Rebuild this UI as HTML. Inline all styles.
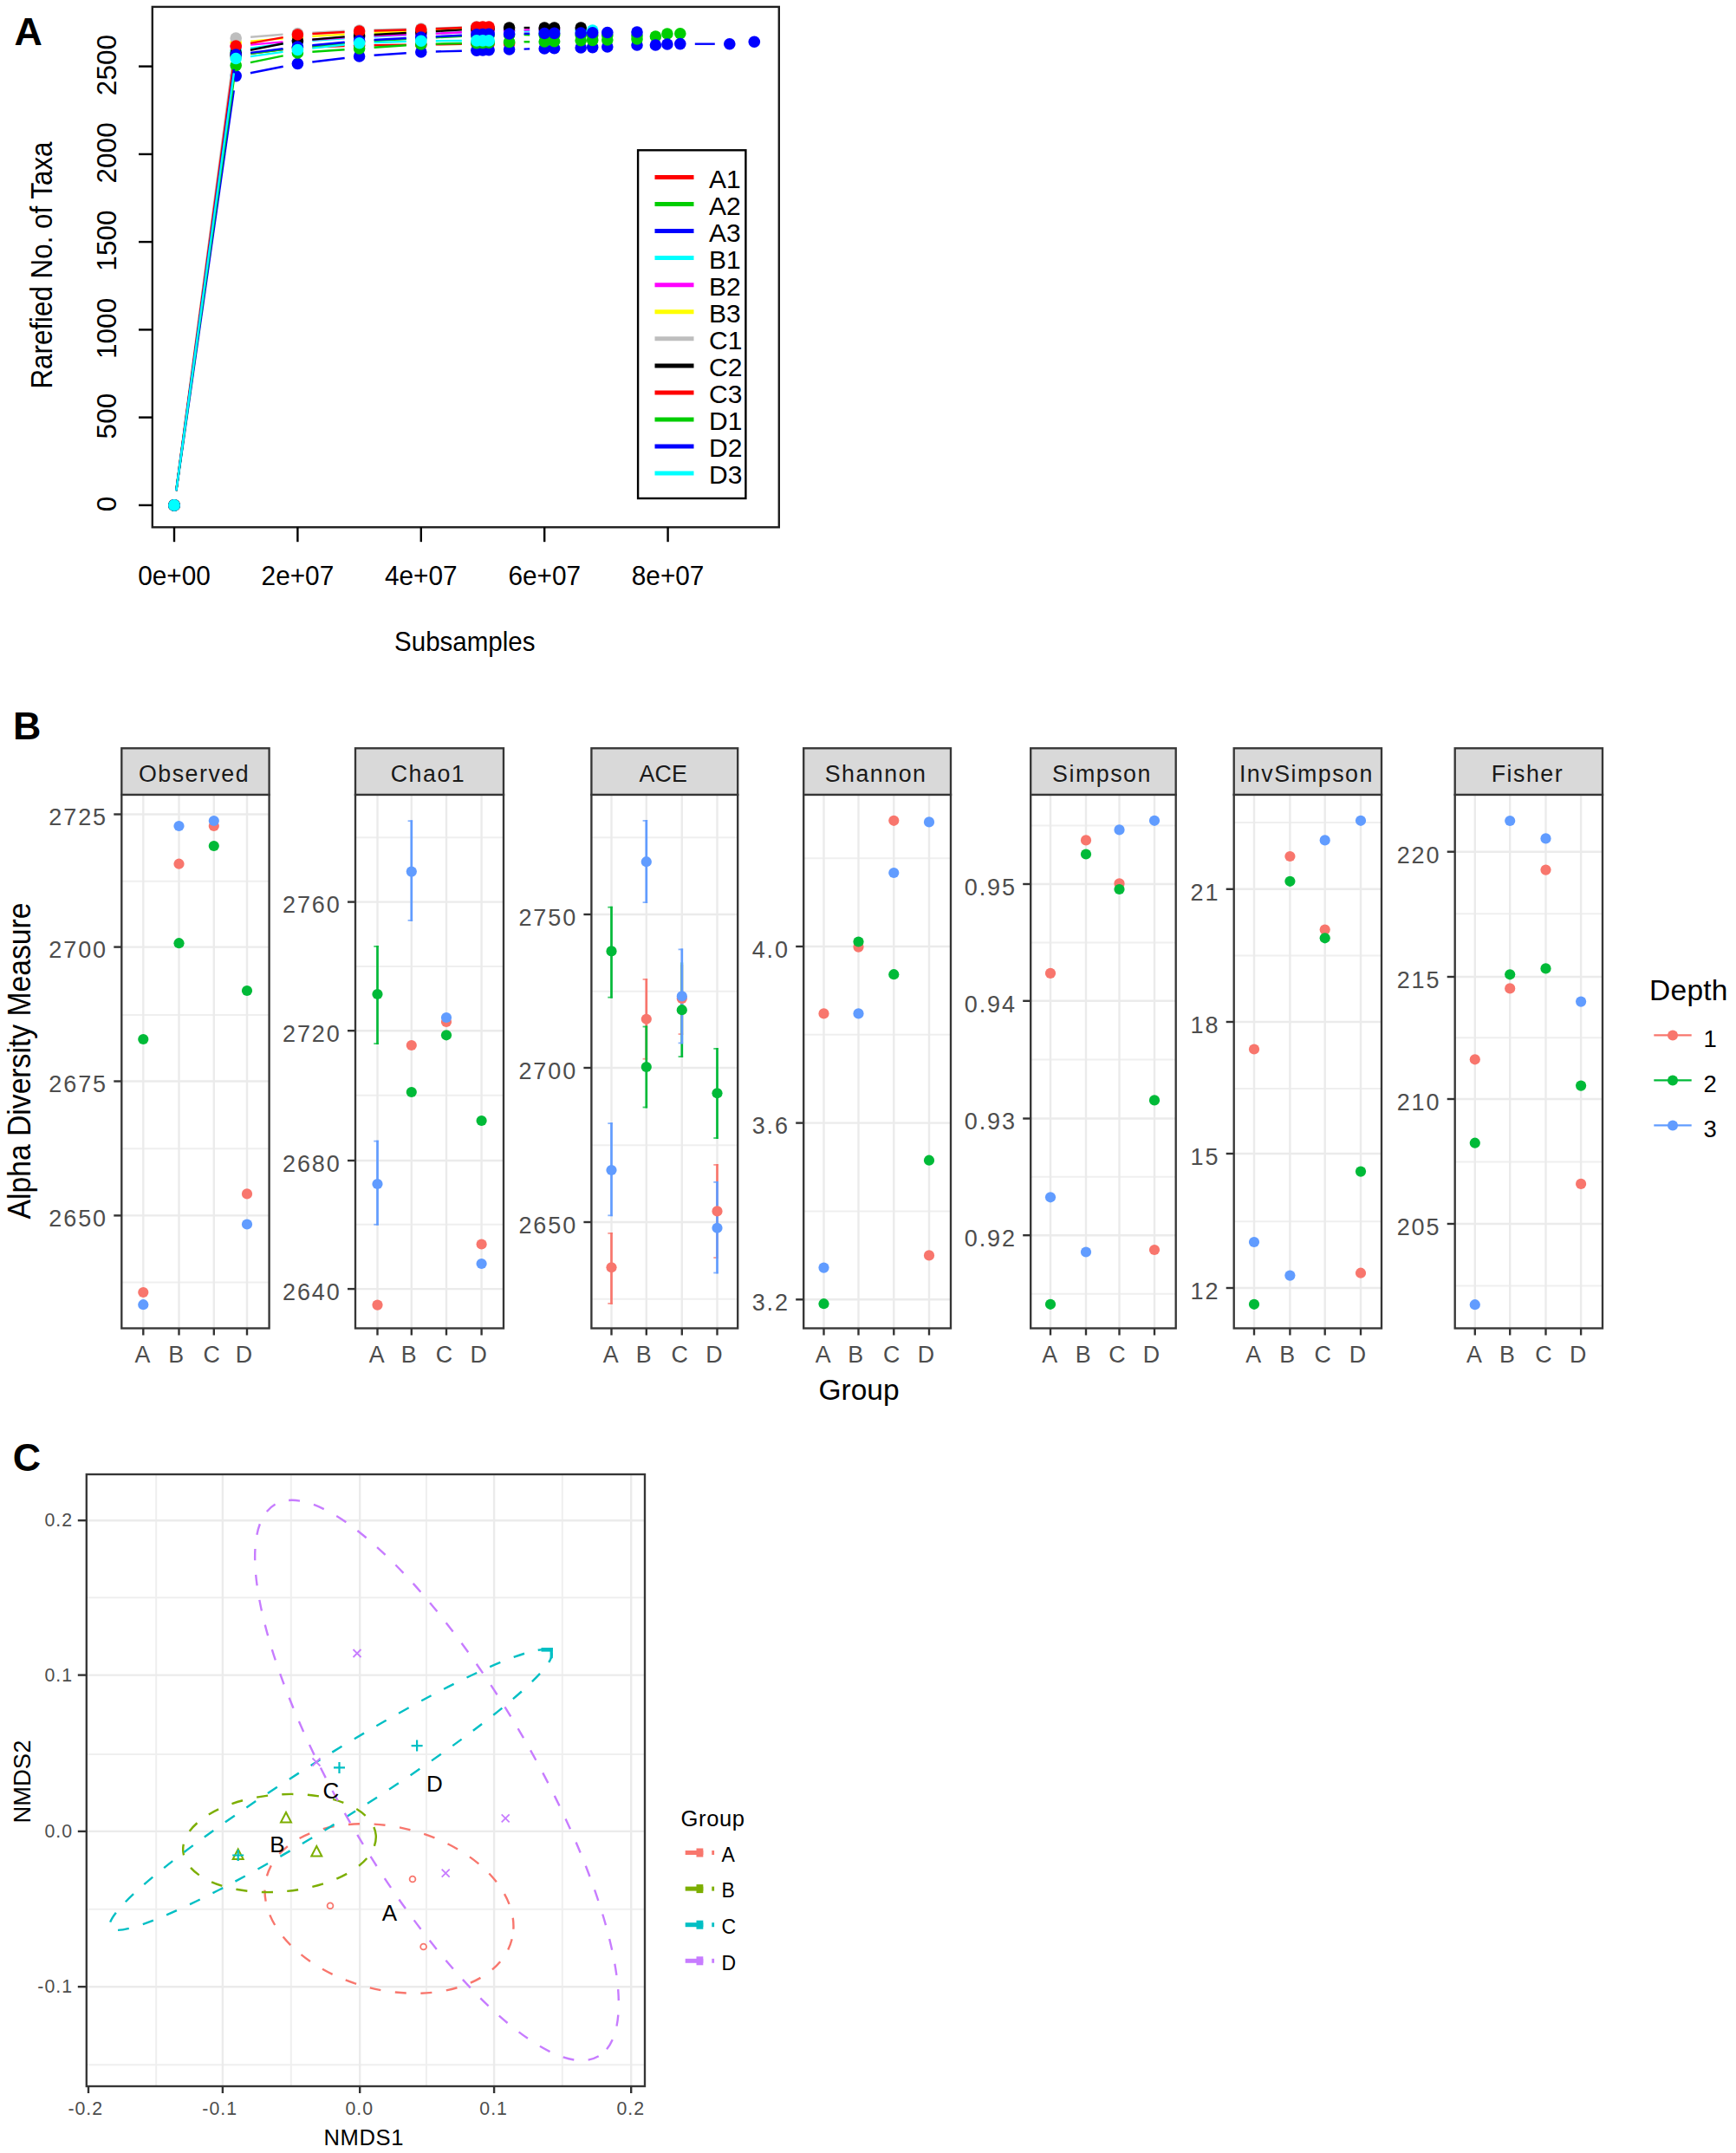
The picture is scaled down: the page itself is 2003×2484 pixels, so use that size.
<!DOCTYPE html>
<html><head><meta charset="utf-8"><title>Figure</title>
<style>html,body{margin:0;padding:0;background:#fff}svg{display:block}</style></head>
<body>
<svg width="2003" height="2484" viewBox="0 0 2003 2484">
<rect width="2003" height="2484" fill="#fff"/>
<g id="pA" font-family="Liberation Sans, sans-serif" font-size="29.7" fill="#000">
<line x1="203.3" y1="566.1" x2="269.9" y2="80.8" stroke="#FF0000" stroke-width="2.4"/>
<line x1="289.1" y1="61.9" x2="326.5" y2="57.1" stroke="#FF0000" stroke-width="2.4"/>
<line x1="360.4" y1="54.4" x2="397.6" y2="53.1" stroke="#FF0000" stroke-width="2.4"/>
<line x1="431.6" y1="52.3" x2="468.8" y2="51.7" stroke="#FF0000" stroke-width="2.4"/>
<line x1="502.8" y1="51.3" x2="532.9" y2="50.8" stroke="#FF0000" stroke-width="2.4"/>
<circle cx="201.0" cy="582.9" r="6.8" fill="#FF0000"/>
<circle cx="272.2" cy="64.0" r="6.8" fill="#FF0000"/>
<circle cx="343.4" cy="55.0" r="6.8" fill="#FF0000"/>
<circle cx="414.6" cy="52.5" r="6.8" fill="#FF0000"/>
<circle cx="485.8" cy="51.5" r="6.8" fill="#FF0000"/>
<circle cx="549.9" cy="50.6" r="6.8" fill="#FF0000"/>
<circle cx="557.0" cy="50.5" r="6.8" fill="#FF0000"/>
<circle cx="564.1" cy="50.4" r="6.8" fill="#FF0000"/>
<circle cx="587.6" cy="50.0" r="6.8" fill="#FF0000"/>
<line x1="203.3" y1="566.1" x2="269.9" y2="80.8" stroke="#00CD00" stroke-width="2.4"/>
<line x1="289.1" y1="61.9" x2="326.5" y2="57.1" stroke="#00CD00" stroke-width="2.4"/>
<line x1="360.3" y1="53.3" x2="397.7" y2="49.7" stroke="#00CD00" stroke-width="2.4"/>
<line x1="431.6" y1="47.0" x2="468.8" y2="45.0" stroke="#00CD00" stroke-width="2.4"/>
<line x1="502.8" y1="43.2" x2="532.9" y2="41.7" stroke="#00CD00" stroke-width="2.4"/>
<line x1="604.6" y1="40.1" x2="611.2" y2="40.2" stroke="#00CD00" stroke-width="2.4"/>
<circle cx="201.0" cy="582.9" r="6.8" fill="#00CD00"/>
<circle cx="272.2" cy="64.0" r="6.8" fill="#00CD00"/>
<circle cx="343.4" cy="55.0" r="6.8" fill="#00CD00"/>
<circle cx="414.6" cy="48.0" r="6.8" fill="#00CD00"/>
<circle cx="485.8" cy="44.0" r="6.8" fill="#00CD00"/>
<circle cx="549.9" cy="40.9" r="6.8" fill="#00CD00"/>
<circle cx="557.0" cy="40.5" r="6.8" fill="#00CD00"/>
<circle cx="564.1" cy="40.4" r="6.8" fill="#00CD00"/>
<circle cx="587.6" cy="40.0" r="6.8" fill="#00CD00"/>
<circle cx="628.2" cy="40.3" r="6.8" fill="#00CD00"/>
<circle cx="639.6" cy="40.4" r="6.8" fill="#00CD00"/>
<circle cx="670.2" cy="40.6" r="6.8" fill="#00CD00"/>
<circle cx="683.7" cy="40.7" r="6.8" fill="#00CD00"/>
<circle cx="700.8" cy="40.8" r="6.8" fill="#00CD00"/>
<circle cx="735.0" cy="41.0" r="6.8" fill="#00CD00"/>
<circle cx="756.4" cy="42.0" r="6.8" fill="#00CD00"/>
<circle cx="769.9" cy="39.0" r="6.8" fill="#00CD00"/>
<circle cx="784.8" cy="38.7" r="6.8" fill="#00CD00"/>
<line x1="203.4" y1="566.1" x2="269.8" y2="104.4" stroke="#0000FF" stroke-width="2.4"/>
<line x1="288.9" y1="84.3" x2="326.7" y2="76.8" stroke="#0000FF" stroke-width="2.4"/>
<line x1="360.3" y1="71.5" x2="397.7" y2="67.0" stroke="#0000FF" stroke-width="2.4"/>
<line x1="431.6" y1="63.8" x2="468.8" y2="61.2" stroke="#0000FF" stroke-width="2.4"/>
<line x1="502.8" y1="59.5" x2="532.9" y2="58.7" stroke="#0000FF" stroke-width="2.4"/>
<line x1="604.6" y1="56.6" x2="611.2" y2="56.4" stroke="#0000FF" stroke-width="2.4"/>
<line x1="801.8" y1="50.7" x2="824.8" y2="50.7" stroke="#0000FF" stroke-width="2.4"/>
<circle cx="201.0" cy="582.9" r="6.8" fill="#0000FF"/>
<circle cx="272.2" cy="87.6" r="6.8" fill="#0000FF"/>
<circle cx="343.4" cy="73.5" r="6.8" fill="#0000FF"/>
<circle cx="414.6" cy="65.0" r="6.8" fill="#0000FF"/>
<circle cx="485.8" cy="60.0" r="6.8" fill="#0000FF"/>
<circle cx="549.9" cy="58.2" r="6.8" fill="#0000FF"/>
<circle cx="557.0" cy="58.0" r="6.8" fill="#0000FF"/>
<circle cx="564.1" cy="57.8" r="6.8" fill="#0000FF"/>
<circle cx="587.6" cy="57.0" r="6.8" fill="#0000FF"/>
<circle cx="628.2" cy="56.0" r="6.8" fill="#0000FF"/>
<circle cx="639.6" cy="55.7" r="6.8" fill="#0000FF"/>
<circle cx="670.2" cy="55.0" r="6.8" fill="#0000FF"/>
<circle cx="683.7" cy="54.6" r="6.8" fill="#0000FF"/>
<circle cx="700.8" cy="54.0" r="6.8" fill="#0000FF"/>
<circle cx="735.0" cy="52.0" r="6.8" fill="#0000FF"/>
<circle cx="756.4" cy="52.0" r="6.8" fill="#0000FF"/>
<circle cx="769.9" cy="51.0" r="6.8" fill="#0000FF"/>
<circle cx="784.8" cy="50.6" r="6.8" fill="#0000FF"/>
<circle cx="841.8" cy="50.8" r="6.8" fill="#0000FF"/>
<circle cx="870.3" cy="48.3" r="6.8" fill="#0000FF"/>
<line x1="203.3" y1="566.1" x2="269.9" y2="74.8" stroke="#00FFFF" stroke-width="2.4"/>
<line x1="289.0" y1="55.6" x2="326.6" y2="50.4" stroke="#00FFFF" stroke-width="2.4"/>
<line x1="360.4" y1="46.8" x2="397.6" y2="44.2" stroke="#00FFFF" stroke-width="2.4"/>
<line x1="431.6" y1="42.2" x2="468.8" y2="40.3" stroke="#00FFFF" stroke-width="2.4"/>
<line x1="502.8" y1="38.7" x2="532.9" y2="37.2" stroke="#00FFFF" stroke-width="2.4"/>
<line x1="604.6" y1="35.6" x2="611.2" y2="35.6" stroke="#00FFFF" stroke-width="2.4"/>
<circle cx="201.0" cy="582.9" r="6.8" fill="#00FFFF"/>
<circle cx="272.2" cy="58.0" r="6.8" fill="#00FFFF"/>
<circle cx="343.4" cy="48.0" r="6.8" fill="#00FFFF"/>
<circle cx="414.6" cy="43.0" r="6.8" fill="#00FFFF"/>
<circle cx="485.8" cy="39.5" r="6.8" fill="#00FFFF"/>
<circle cx="549.9" cy="36.4" r="6.8" fill="#00FFFF"/>
<circle cx="557.0" cy="36.0" r="6.8" fill="#00FFFF"/>
<circle cx="564.1" cy="35.9" r="6.8" fill="#00FFFF"/>
<circle cx="587.6" cy="35.8" r="6.8" fill="#00FFFF"/>
<circle cx="628.2" cy="35.4" r="6.8" fill="#00FFFF"/>
<circle cx="639.6" cy="35.3" r="6.8" fill="#00FFFF"/>
<circle cx="670.2" cy="35.1" r="6.8" fill="#00FFFF"/>
<circle cx="683.7" cy="35.0" r="6.8" fill="#00FFFF"/>
<line x1="203.3" y1="566.1" x2="269.9" y2="69.8" stroke="#FF00FF" stroke-width="2.4"/>
<line x1="289.1" y1="51.6" x2="326.5" y2="48.4" stroke="#FF00FF" stroke-width="2.4"/>
<line x1="360.4" y1="45.8" x2="397.6" y2="43.2" stroke="#FF00FF" stroke-width="2.4"/>
<line x1="431.6" y1="41.4" x2="468.8" y2="40.1" stroke="#FF00FF" stroke-width="2.4"/>
<line x1="502.8" y1="38.7" x2="532.9" y2="37.2" stroke="#FF00FF" stroke-width="2.4"/>
<line x1="604.6" y1="34.6" x2="611.2" y2="34.4" stroke="#FF00FF" stroke-width="2.4"/>
<circle cx="201.0" cy="582.9" r="6.8" fill="#FF00FF"/>
<circle cx="272.2" cy="53.0" r="6.8" fill="#FF00FF"/>
<circle cx="343.4" cy="47.0" r="6.8" fill="#FF00FF"/>
<circle cx="414.6" cy="42.0" r="6.8" fill="#FF00FF"/>
<circle cx="485.8" cy="39.5" r="6.8" fill="#FF00FF"/>
<circle cx="549.9" cy="36.4" r="6.8" fill="#FF00FF"/>
<circle cx="557.0" cy="36.0" r="6.8" fill="#FF00FF"/>
<circle cx="564.1" cy="35.8" r="6.8" fill="#FF00FF"/>
<circle cx="587.6" cy="35.0" r="6.8" fill="#FF00FF"/>
<circle cx="628.2" cy="34.0" r="6.8" fill="#FF00FF"/>
<circle cx="639.6" cy="34.0" r="6.8" fill="#FF00FF"/>
<line x1="203.2" y1="566.0" x2="270.0" y2="65.9" stroke="#FFFF00" stroke-width="2.4"/>
<line x1="289.1" y1="47.6" x2="326.5" y2="44.4" stroke="#FFFF00" stroke-width="2.4"/>
<line x1="360.4" y1="41.9" x2="397.6" y2="39.6" stroke="#FFFF00" stroke-width="2.4"/>
<line x1="431.6" y1="37.7" x2="468.8" y2="35.8" stroke="#FFFF00" stroke-width="2.4"/>
<line x1="502.8" y1="34.3" x2="532.9" y2="33.0" stroke="#FFFF00" stroke-width="2.4"/>
<circle cx="201.0" cy="582.9" r="6.8" fill="#FFFF00"/>
<circle cx="272.2" cy="49.0" r="6.8" fill="#FFFF00"/>
<circle cx="343.4" cy="43.0" r="6.8" fill="#FFFF00"/>
<circle cx="414.6" cy="38.5" r="6.8" fill="#FFFF00"/>
<circle cx="485.8" cy="35.0" r="6.8" fill="#FFFF00"/>
<circle cx="549.9" cy="32.3" r="6.8" fill="#FFFF00"/>
<circle cx="557.0" cy="32.0" r="6.8" fill="#FFFF00"/>
<line x1="203.2" y1="566.0" x2="270.0" y2="60.9" stroke="#BEBEBE" stroke-width="2.4"/>
<line x1="289.1" y1="42.7" x2="326.5" y2="39.8" stroke="#BEBEBE" stroke-width="2.4"/>
<line x1="360.4" y1="37.7" x2="397.6" y2="35.8" stroke="#BEBEBE" stroke-width="2.4"/>
<line x1="431.6" y1="34.5" x2="468.8" y2="33.5" stroke="#BEBEBE" stroke-width="2.4"/>
<line x1="502.8" y1="32.5" x2="532.9" y2="31.5" stroke="#BEBEBE" stroke-width="2.4"/>
<circle cx="201.0" cy="582.9" r="6.8" fill="#BEBEBE"/>
<circle cx="272.2" cy="44.0" r="6.8" fill="#BEBEBE"/>
<circle cx="343.4" cy="38.5" r="6.8" fill="#BEBEBE"/>
<circle cx="414.6" cy="35.0" r="6.8" fill="#BEBEBE"/>
<circle cx="485.8" cy="33.0" r="6.8" fill="#BEBEBE"/>
<circle cx="549.9" cy="31.0" r="6.8" fill="#BEBEBE"/>
<line x1="203.3" y1="566.1" x2="269.9" y2="77.8" stroke="#000000" stroke-width="2.4"/>
<line x1="288.9" y1="57.7" x2="326.7" y2="50.3" stroke="#000000" stroke-width="2.4"/>
<line x1="360.3" y1="45.6" x2="397.7" y2="42.4" stroke="#000000" stroke-width="2.4"/>
<line x1="431.6" y1="40.0" x2="468.8" y2="38.0" stroke="#000000" stroke-width="2.4"/>
<line x1="502.8" y1="36.0" x2="532.9" y2="34.4" stroke="#000000" stroke-width="2.4"/>
<line x1="604.6" y1="32.0" x2="611.2" y2="32.0" stroke="#000000" stroke-width="2.4"/>
<circle cx="201.0" cy="582.9" r="6.8" fill="#000000"/>
<circle cx="272.2" cy="61.0" r="6.8" fill="#000000"/>
<circle cx="343.4" cy="47.0" r="6.8" fill="#000000"/>
<circle cx="414.6" cy="41.0" r="6.8" fill="#000000"/>
<circle cx="485.8" cy="37.0" r="6.8" fill="#000000"/>
<circle cx="549.9" cy="33.4" r="6.8" fill="#000000"/>
<circle cx="557.0" cy="33.0" r="6.8" fill="#000000"/>
<circle cx="564.1" cy="32.8" r="6.8" fill="#000000"/>
<circle cx="587.6" cy="32.0" r="6.8" fill="#000000"/>
<circle cx="628.2" cy="32.0" r="6.8" fill="#000000"/>
<circle cx="639.6" cy="32.0" r="6.8" fill="#000000"/>
<circle cx="670.2" cy="32.0" r="6.8" fill="#000000"/>
<line x1="203.3" y1="566.1" x2="269.9" y2="69.8" stroke="#FF0000" stroke-width="2.4"/>
<line x1="288.9" y1="49.9" x2="326.7" y2="43.1" stroke="#FF0000" stroke-width="2.4"/>
<line x1="360.4" y1="39.0" x2="397.6" y2="37.0" stroke="#FF0000" stroke-width="2.4"/>
<line x1="431.6" y1="35.5" x2="468.8" y2="34.5" stroke="#FF0000" stroke-width="2.4"/>
<line x1="502.8" y1="33.3" x2="532.9" y2="32.0" stroke="#FF0000" stroke-width="2.4"/>
<circle cx="201.0" cy="582.9" r="6.8" fill="#FF0000"/>
<circle cx="272.2" cy="53.0" r="6.8" fill="#FF0000"/>
<circle cx="343.4" cy="40.0" r="6.8" fill="#FF0000"/>
<circle cx="414.6" cy="36.0" r="6.8" fill="#FF0000"/>
<circle cx="485.8" cy="34.0" r="6.8" fill="#FF0000"/>
<circle cx="549.9" cy="31.3" r="6.8" fill="#FF0000"/>
<circle cx="557.0" cy="31.0" r="6.8" fill="#FF0000"/>
<circle cx="564.1" cy="31.0" r="6.8" fill="#FF0000"/>
<line x1="203.4" y1="566.1" x2="269.8" y2="92.3" stroke="#00CD00" stroke-width="2.4"/>
<line x1="288.9" y1="72.1" x2="326.7" y2="64.4" stroke="#00CD00" stroke-width="2.4"/>
<line x1="360.4" y1="59.8" x2="397.6" y2="57.2" stroke="#00CD00" stroke-width="2.4"/>
<line x1="431.6" y1="54.8" x2="468.8" y2="52.2" stroke="#00CD00" stroke-width="2.4"/>
<line x1="502.8" y1="50.6" x2="532.9" y2="50.0" stroke="#00CD00" stroke-width="2.4"/>
<line x1="604.6" y1="48.3" x2="611.2" y2="48.2" stroke="#00CD00" stroke-width="2.4"/>
<circle cx="201.0" cy="582.9" r="6.8" fill="#00CD00"/>
<circle cx="272.2" cy="75.5" r="6.8" fill="#00CD00"/>
<circle cx="343.4" cy="61.0" r="6.8" fill="#00CD00"/>
<circle cx="414.6" cy="56.0" r="6.8" fill="#00CD00"/>
<circle cx="485.8" cy="51.0" r="6.8" fill="#00CD00"/>
<circle cx="549.9" cy="49.6" r="6.8" fill="#00CD00"/>
<circle cx="557.0" cy="49.5" r="6.8" fill="#00CD00"/>
<circle cx="564.1" cy="49.3" r="6.8" fill="#00CD00"/>
<circle cx="587.6" cy="48.5" r="6.8" fill="#00CD00"/>
<circle cx="628.2" cy="48.0" r="6.8" fill="#00CD00"/>
<circle cx="639.6" cy="47.7" r="6.8" fill="#00CD00"/>
<circle cx="670.2" cy="46.8" r="6.8" fill="#00CD00"/>
<circle cx="683.7" cy="46.4" r="6.8" fill="#00CD00"/>
<circle cx="700.8" cy="46.0" r="6.8" fill="#00CD00"/>
<circle cx="735.0" cy="45.0" r="6.8" fill="#00CD00"/>
<line x1="203.3" y1="566.1" x2="269.9" y2="79.8" stroke="#0000FF" stroke-width="2.4"/>
<line x1="289.1" y1="60.9" x2="326.5" y2="56.1" stroke="#0000FF" stroke-width="2.4"/>
<line x1="360.3" y1="52.3" x2="397.7" y2="48.7" stroke="#0000FF" stroke-width="2.4"/>
<line x1="431.6" y1="46.0" x2="468.8" y2="44.0" stroke="#0000FF" stroke-width="2.4"/>
<line x1="502.8" y1="42.2" x2="532.9" y2="40.7" stroke="#0000FF" stroke-width="2.4"/>
<line x1="604.6" y1="38.8" x2="611.2" y2="38.7" stroke="#0000FF" stroke-width="2.4"/>
<circle cx="201.0" cy="582.9" r="6.8" fill="#0000FF"/>
<circle cx="272.2" cy="63.0" r="6.8" fill="#0000FF"/>
<circle cx="343.4" cy="54.0" r="6.8" fill="#0000FF"/>
<circle cx="414.6" cy="47.0" r="6.8" fill="#0000FF"/>
<circle cx="485.8" cy="43.0" r="6.8" fill="#0000FF"/>
<circle cx="549.9" cy="39.9" r="6.8" fill="#0000FF"/>
<circle cx="557.0" cy="39.5" r="6.8" fill="#0000FF"/>
<circle cx="564.1" cy="39.4" r="6.8" fill="#0000FF"/>
<circle cx="587.6" cy="39.0" r="6.8" fill="#0000FF"/>
<circle cx="628.2" cy="38.5" r="6.8" fill="#0000FF"/>
<circle cx="639.6" cy="38.4" r="6.8" fill="#0000FF"/>
<circle cx="670.2" cy="38.0" r="6.8" fill="#0000FF"/>
<circle cx="683.7" cy="37.8" r="6.8" fill="#0000FF"/>
<circle cx="700.8" cy="37.5" r="6.8" fill="#0000FF"/>
<circle cx="735.0" cy="37.0" r="6.8" fill="#0000FF"/>
<line x1="203.3" y1="566.1" x2="269.9" y2="84.3" stroke="#00FFFF" stroke-width="2.4"/>
<line x1="289.0" y1="65.1" x2="326.6" y2="59.9" stroke="#00FFFF" stroke-width="2.4"/>
<line x1="360.3" y1="55.6" x2="397.7" y2="51.6" stroke="#00FFFF" stroke-width="2.4"/>
<line x1="431.6" y1="49.1" x2="468.8" y2="47.9" stroke="#00FFFF" stroke-width="2.4"/>
<line x1="502.8" y1="47.2" x2="532.9" y2="47.0" stroke="#00FFFF" stroke-width="2.4"/>
<circle cx="201.0" cy="582.9" r="6.8" fill="#00FFFF"/>
<circle cx="272.2" cy="67.5" r="6.8" fill="#00FFFF"/>
<circle cx="343.4" cy="57.5" r="6.8" fill="#00FFFF"/>
<circle cx="414.6" cy="49.7" r="6.8" fill="#00FFFF"/>
<circle cx="485.8" cy="47.3" r="6.8" fill="#00FFFF"/>
<circle cx="549.9" cy="46.9" r="6.8" fill="#00FFFF"/>
<circle cx="557.0" cy="46.9" r="6.8" fill="#00FFFF"/>
<circle cx="564.1" cy="46.9" r="6.8" fill="#00FFFF"/>
<rect x="175.8" y="7.9" width="723.0" height="600.4" fill="none" stroke="#1E1E1E" stroke-width="2.4"/>
<line x1="160" y1="582.9" x2="175.8" y2="582.9" stroke="#000" stroke-width="2.4"/>
<text transform="translate(133.5,581.4) rotate(-90)" text-anchor="middle" font-size="31.5">0</text>
<line x1="160" y1="481.6" x2="175.8" y2="481.6" stroke="#000" stroke-width="2.4"/>
<text transform="translate(133.5,480.1) rotate(-90)" text-anchor="middle" font-size="31.5">500</text>
<line x1="160" y1="380.4" x2="175.8" y2="380.4" stroke="#000" stroke-width="2.4"/>
<text transform="translate(133.5,378.9) rotate(-90)" text-anchor="middle" font-size="31.5">1000</text>
<line x1="160" y1="279.1" x2="175.8" y2="279.1" stroke="#000" stroke-width="2.4"/>
<text transform="translate(133.5,277.6) rotate(-90)" text-anchor="middle" font-size="31.5">1500</text>
<line x1="160" y1="177.9" x2="175.8" y2="177.9" stroke="#000" stroke-width="2.4"/>
<text transform="translate(133.5,176.4) rotate(-90)" text-anchor="middle" font-size="31.5">2000</text>
<line x1="160" y1="76.6" x2="175.8" y2="76.6" stroke="#000" stroke-width="2.4"/>
<text transform="translate(133.5,75.1) rotate(-90)" text-anchor="middle" font-size="31.5">2500</text>
<text transform="translate(60.3,306) rotate(-90)" text-anchor="middle" font-size="35.5" textLength="285" lengthAdjust="spacingAndGlyphs">Rarefied No. of Taxa</text>
<line x1="201.0" y1="608.3" x2="201.0" y2="625.2" stroke="#000" stroke-width="2.4"/>
<text x="201.0" y="675" text-anchor="middle" font-size="32" textLength="83.6" lengthAdjust="spacingAndGlyphs">0e+00</text>
<line x1="343.4" y1="608.3" x2="343.4" y2="625.2" stroke="#000" stroke-width="2.4"/>
<text x="343.4" y="675" text-anchor="middle" font-size="32" textLength="83.6" lengthAdjust="spacingAndGlyphs">2e+07</text>
<line x1="485.8" y1="608.3" x2="485.8" y2="625.2" stroke="#000" stroke-width="2.4"/>
<text x="485.8" y="675" text-anchor="middle" font-size="32" textLength="83.6" lengthAdjust="spacingAndGlyphs">4e+07</text>
<line x1="628.2" y1="608.3" x2="628.2" y2="625.2" stroke="#000" stroke-width="2.4"/>
<text x="628.2" y="675" text-anchor="middle" font-size="32" textLength="83.6" lengthAdjust="spacingAndGlyphs">6e+07</text>
<line x1="770.6" y1="608.3" x2="770.6" y2="625.2" stroke="#000" stroke-width="2.4"/>
<text x="770.6" y="675" text-anchor="middle" font-size="32" textLength="83.6" lengthAdjust="spacingAndGlyphs">8e+07</text>
<text x="536.3" y="751" text-anchor="middle" font-size="31.5" textLength="162.5" lengthAdjust="spacingAndGlyphs">Subsamples</text>
<rect x="736.1" y="173.3" width="124.3" height="401.7" fill="#fff" stroke="#000" stroke-width="2.4"/>
<line x1="755.5" y1="204.5" x2="800.5" y2="204.5" stroke="#FF0000" stroke-width="5"/>
<text x="818" y="217.3" font-size="30">A1</text>
<line x1="755.5" y1="235.6" x2="800.5" y2="235.6" stroke="#00CD00" stroke-width="5"/>
<text x="818" y="248.2" font-size="30">A2</text>
<line x1="755.5" y1="266.6" x2="800.5" y2="266.6" stroke="#0000FF" stroke-width="5"/>
<text x="818" y="279.2" font-size="30">A3</text>
<line x1="755.5" y1="297.6" x2="800.5" y2="297.6" stroke="#00FFFF" stroke-width="5"/>
<text x="818" y="310.1" font-size="30">B1</text>
<line x1="755.5" y1="328.7" x2="800.5" y2="328.7" stroke="#FF00FF" stroke-width="5"/>
<text x="818" y="341.1" font-size="30">B2</text>
<line x1="755.5" y1="359.8" x2="800.5" y2="359.8" stroke="#FFFF00" stroke-width="5"/>
<text x="818" y="372.1" font-size="30">B3</text>
<line x1="755.5" y1="390.8" x2="800.5" y2="390.8" stroke="#BEBEBE" stroke-width="5"/>
<text x="818" y="403.0" font-size="30">C1</text>
<line x1="755.5" y1="421.9" x2="800.5" y2="421.9" stroke="#000000" stroke-width="5"/>
<text x="818" y="434.0" font-size="30">C2</text>
<line x1="755.5" y1="452.9" x2="800.5" y2="452.9" stroke="#FF0000" stroke-width="5"/>
<text x="818" y="464.9" font-size="30">C3</text>
<line x1="755.5" y1="483.9" x2="800.5" y2="483.9" stroke="#00CD00" stroke-width="5"/>
<text x="818" y="495.9" font-size="30">D1</text>
<line x1="755.5" y1="515.0" x2="800.5" y2="515.0" stroke="#0000FF" stroke-width="5"/>
<text x="818" y="526.8" font-size="30">D2</text>
<line x1="755.5" y1="546.0" x2="800.5" y2="546.0" stroke="#00FFFF" stroke-width="5"/>
<text x="818" y="557.8" font-size="30">D3</text>
</g>
<g id="pB" font-family="Liberation Sans, sans-serif">
<rect x="140.3" y="916.9" width="170.3" height="615.6" fill="#fff"/>
<line x1="140.3" y1="1016.7" x2="310.6" y2="1016.7" stroke="#EFEFEF" stroke-width="2"/>
<line x1="140.3" y1="1171.0" x2="310.6" y2="1171.0" stroke="#EFEFEF" stroke-width="2"/>
<line x1="140.3" y1="1325.2" x2="310.6" y2="1325.2" stroke="#EFEFEF" stroke-width="2"/>
<line x1="140.3" y1="1479.5" x2="310.6" y2="1479.5" stroke="#EFEFEF" stroke-width="2"/>
<line x1="140.3" y1="939.5" x2="310.6" y2="939.5" stroke="#EBEBEB" stroke-width="2.4"/>
<line x1="140.3" y1="1092.6" x2="310.6" y2="1092.6" stroke="#EBEBEB" stroke-width="2.4"/>
<line x1="140.3" y1="1247.5" x2="310.6" y2="1247.5" stroke="#EBEBEB" stroke-width="2.4"/>
<line x1="140.3" y1="1402.4" x2="310.6" y2="1402.4" stroke="#EBEBEB" stroke-width="2.4"/>
<line x1="165.3" y1="916.9" x2="165.3" y2="1532.5" stroke="#EBEBEB" stroke-width="2.4"/>
<line x1="206.5" y1="916.9" x2="206.5" y2="1532.5" stroke="#EBEBEB" stroke-width="2.4"/>
<line x1="246.8" y1="916.9" x2="246.8" y2="1532.5" stroke="#EBEBEB" stroke-width="2.4"/>
<line x1="285.0" y1="916.9" x2="285.0" y2="1532.5" stroke="#EBEBEB" stroke-width="2.4"/>
<circle cx="206.5" cy="996.7" r="6.1" fill="#F8766D"/>
<circle cx="246.8" cy="953" r="6.1" fill="#F8766D"/>
<circle cx="165.3" cy="1491" r="6.1" fill="#F8766D"/>
<circle cx="285.0" cy="1377.4" r="6.1" fill="#F8766D"/>
<circle cx="165.3" cy="1199" r="6.1" fill="#00BA38"/>
<circle cx="206.5" cy="1088.2" r="6.1" fill="#00BA38"/>
<circle cx="246.8" cy="976" r="6.1" fill="#00BA38"/>
<circle cx="285.0" cy="1143" r="6.1" fill="#00BA38"/>
<circle cx="206.5" cy="953" r="6.1" fill="#619CFF"/>
<circle cx="246.8" cy="947" r="6.1" fill="#619CFF"/>
<circle cx="165.3" cy="1505.2" r="6.1" fill="#619CFF"/>
<circle cx="285.0" cy="1412.5" r="6.1" fill="#619CFF"/>
<rect x="140.3" y="916.9" width="170.3" height="615.6" fill="none" stroke="#363636" stroke-width="2.35"/>
<rect x="140.3" y="863.3" width="170.3" height="53.60000000000002" fill="#D9D9D9" stroke="#363636" stroke-width="2.35"/>
<text x="224.0" y="901.5" font-size="26.8" fill="#1A1A1A" text-anchor="middle" letter-spacing="1.5">Observed</text>
<line x1="165.3" y1="1532.5" x2="165.3" y2="1540.5" stroke="#333" stroke-width="2.4"/>
<text x="164.5" y="1571.5" font-size="26.8" fill="#4D4D4D" text-anchor="middle">A</text>
<line x1="206.5" y1="1532.5" x2="206.5" y2="1540.5" stroke="#333" stroke-width="2.4"/>
<text x="203.3" y="1571.5" font-size="26.8" fill="#4D4D4D" text-anchor="middle">B</text>
<line x1="246.8" y1="1532.5" x2="246.8" y2="1540.5" stroke="#333" stroke-width="2.4"/>
<text x="244.2" y="1571.5" font-size="26.8" fill="#4D4D4D" text-anchor="middle">C</text>
<line x1="285.0" y1="1532.5" x2="285.0" y2="1540.5" stroke="#333" stroke-width="2.4"/>
<text x="281.5" y="1571.5" font-size="26.8" fill="#4D4D4D" text-anchor="middle">D</text>
<line x1="131.3" y1="939.5" x2="140.3" y2="939.5" stroke="#333" stroke-width="2.4"/>
<text x="124.00000000000001" y="952.3" font-size="27" fill="#4D4D4D" text-anchor="end" letter-spacing="1.9">2725</text>
<line x1="131.3" y1="1092.6" x2="140.3" y2="1092.6" stroke="#333" stroke-width="2.4"/>
<text x="124.00000000000001" y="1105.4" font-size="27" fill="#4D4D4D" text-anchor="end" letter-spacing="1.9">2700</text>
<line x1="131.3" y1="1247.5" x2="140.3" y2="1247.5" stroke="#333" stroke-width="2.4"/>
<text x="124.00000000000001" y="1260.3" font-size="27" fill="#4D4D4D" text-anchor="end" letter-spacing="1.9">2675</text>
<line x1="131.3" y1="1402.4" x2="140.3" y2="1402.4" stroke="#333" stroke-width="2.4"/>
<text x="124.00000000000001" y="1415.2" font-size="27" fill="#4D4D4D" text-anchor="end" letter-spacing="1.9">2650</text>
<rect x="410.0" y="916.9" width="171" height="615.6" fill="#fff"/>
<line x1="410.0" y1="966.2" x2="581.0" y2="966.2" stroke="#EFEFEF" stroke-width="2"/>
<line x1="410.0" y1="1115.0" x2="581.0" y2="1115.0" stroke="#EFEFEF" stroke-width="2"/>
<line x1="410.0" y1="1263.8" x2="581.0" y2="1263.8" stroke="#EFEFEF" stroke-width="2"/>
<line x1="410.0" y1="1412.7" x2="581.0" y2="1412.7" stroke="#EFEFEF" stroke-width="2"/>
<line x1="410.0" y1="1040.6" x2="581.0" y2="1040.6" stroke="#EBEBEB" stroke-width="2.4"/>
<line x1="410.0" y1="1189.2" x2="581.0" y2="1189.2" stroke="#EBEBEB" stroke-width="2.4"/>
<line x1="410.0" y1="1339.0" x2="581.0" y2="1339.0" stroke="#EBEBEB" stroke-width="2.4"/>
<line x1="410.0" y1="1487.1" x2="581.0" y2="1487.1" stroke="#EBEBEB" stroke-width="2.4"/>
<line x1="435.5" y1="916.9" x2="435.5" y2="1532.5" stroke="#EBEBEB" stroke-width="2.4"/>
<line x1="474.8" y1="916.9" x2="474.8" y2="1532.5" stroke="#EBEBEB" stroke-width="2.4"/>
<line x1="515.0" y1="916.9" x2="515.0" y2="1532.5" stroke="#EBEBEB" stroke-width="2.4"/>
<line x1="555.6" y1="916.9" x2="555.6" y2="1532.5" stroke="#EBEBEB" stroke-width="2.4"/>
<line x1="435.5" y1="1091" x2="435.5" y2="1205" stroke="#00BA38" stroke-width="2.7"/>
<line x1="431.3" y1="1091.9" x2="436.8" y2="1091.9" stroke="#00BA38" stroke-width="1.8" stroke-opacity="0.75"/>
<line x1="431.3" y1="1204.1" x2="436.8" y2="1204.1" stroke="#00BA38" stroke-width="1.8" stroke-opacity="0.75"/>
<line x1="435.5" y1="1315.7" x2="435.5" y2="1413.7" stroke="#619CFF" stroke-width="2.7"/>
<line x1="431.3" y1="1316.6000000000001" x2="436.8" y2="1316.6000000000001" stroke="#619CFF" stroke-width="1.8" stroke-opacity="0.75"/>
<line x1="431.3" y1="1412.8" x2="436.8" y2="1412.8" stroke="#619CFF" stroke-width="1.8" stroke-opacity="0.75"/>
<line x1="474.8" y1="946.3" x2="474.8" y2="1062.8" stroke="#619CFF" stroke-width="2.7"/>
<line x1="470.6" y1="947.1999999999999" x2="476.1" y2="947.1999999999999" stroke="#619CFF" stroke-width="1.8" stroke-opacity="0.75"/>
<line x1="470.6" y1="1061.8999999999999" x2="476.1" y2="1061.8999999999999" stroke="#619CFF" stroke-width="1.8" stroke-opacity="0.75"/>
<circle cx="435.5" cy="1505.6" r="6.1" fill="#F8766D"/>
<circle cx="474.8" cy="1206" r="6.1" fill="#F8766D"/>
<circle cx="515.0" cy="1179" r="6.1" fill="#F8766D"/>
<circle cx="555.6" cy="1435.5" r="6.1" fill="#F8766D"/>
<circle cx="435.5" cy="1147" r="6.1" fill="#00BA38"/>
<circle cx="474.8" cy="1260" r="6.1" fill="#00BA38"/>
<circle cx="515.0" cy="1194.3" r="6.1" fill="#00BA38"/>
<circle cx="555.6" cy="1293" r="6.1" fill="#00BA38"/>
<circle cx="435.5" cy="1366" r="6.1" fill="#619CFF"/>
<circle cx="474.8" cy="1005.6" r="6.1" fill="#619CFF"/>
<circle cx="515.0" cy="1174" r="6.1" fill="#619CFF"/>
<circle cx="555.6" cy="1458" r="6.1" fill="#619CFF"/>
<rect x="410.0" y="916.9" width="171" height="615.6" fill="none" stroke="#363636" stroke-width="2.35"/>
<rect x="410.0" y="863.3" width="171" height="53.60000000000002" fill="#D9D9D9" stroke="#363636" stroke-width="2.35"/>
<text x="494.0" y="901.5" font-size="26.8" fill="#1A1A1A" text-anchor="middle" letter-spacing="1.5">Chao1</text>
<line x1="435.5" y1="1532.5" x2="435.5" y2="1540.5" stroke="#333" stroke-width="2.4"/>
<text x="434.7" y="1571.5" font-size="26.8" fill="#4D4D4D" text-anchor="middle">A</text>
<line x1="474.8" y1="1532.5" x2="474.8" y2="1540.5" stroke="#333" stroke-width="2.4"/>
<text x="471.6" y="1571.5" font-size="26.8" fill="#4D4D4D" text-anchor="middle">B</text>
<line x1="515.0" y1="1532.5" x2="515.0" y2="1540.5" stroke="#333" stroke-width="2.4"/>
<text x="512.4" y="1571.5" font-size="26.8" fill="#4D4D4D" text-anchor="middle">C</text>
<line x1="555.6" y1="1532.5" x2="555.6" y2="1540.5" stroke="#333" stroke-width="2.4"/>
<text x="552.1" y="1571.5" font-size="26.8" fill="#4D4D4D" text-anchor="middle">D</text>
<line x1="401.0" y1="1040.6" x2="410.0" y2="1040.6" stroke="#333" stroke-width="2.4"/>
<text x="393.7" y="1053.4" font-size="27" fill="#4D4D4D" text-anchor="end" letter-spacing="1.9">2760</text>
<line x1="401.0" y1="1189.2" x2="410.0" y2="1189.2" stroke="#333" stroke-width="2.4"/>
<text x="393.7" y="1202.0" font-size="27" fill="#4D4D4D" text-anchor="end" letter-spacing="1.9">2720</text>
<line x1="401.0" y1="1339.0" x2="410.0" y2="1339.0" stroke="#333" stroke-width="2.4"/>
<text x="393.7" y="1351.8" font-size="27" fill="#4D4D4D" text-anchor="end" letter-spacing="1.9">2680</text>
<line x1="401.0" y1="1487.1" x2="410.0" y2="1487.1" stroke="#333" stroke-width="2.4"/>
<text x="393.7" y="1499.9" font-size="27" fill="#4D4D4D" text-anchor="end" letter-spacing="1.9">2640</text>
<rect x="682.4" y="916.9" width="168.8" height="615.6" fill="#fff"/>
<line x1="682.4" y1="966.2" x2="851.2" y2="966.2" stroke="#EFEFEF" stroke-width="2"/>
<line x1="682.4" y1="1143.8" x2="851.2" y2="1143.8" stroke="#EFEFEF" stroke-width="2"/>
<line x1="682.4" y1="1321.2" x2="851.2" y2="1321.2" stroke="#EFEFEF" stroke-width="2"/>
<line x1="682.4" y1="1498.8" x2="851.2" y2="1498.8" stroke="#EFEFEF" stroke-width="2"/>
<line x1="682.4" y1="1055.0" x2="851.2" y2="1055.0" stroke="#EBEBEB" stroke-width="2.4"/>
<line x1="682.4" y1="1232.0" x2="851.2" y2="1232.0" stroke="#EBEBEB" stroke-width="2.4"/>
<line x1="682.4" y1="1410.0" x2="851.2" y2="1410.0" stroke="#EBEBEB" stroke-width="2.4"/>
<line x1="705.5" y1="916.9" x2="705.5" y2="1532.5" stroke="#EBEBEB" stroke-width="2.4"/>
<line x1="745.8" y1="916.9" x2="745.8" y2="1532.5" stroke="#EBEBEB" stroke-width="2.4"/>
<line x1="786.8" y1="916.9" x2="786.8" y2="1532.5" stroke="#EBEBEB" stroke-width="2.4"/>
<line x1="827.5" y1="916.9" x2="827.5" y2="1532.5" stroke="#EBEBEB" stroke-width="2.4"/>
<line x1="705.5" y1="1422" x2="705.5" y2="1504.8" stroke="#F8766D" stroke-width="2.7"/>
<line x1="701.3" y1="1422.9" x2="706.8" y2="1422.9" stroke="#F8766D" stroke-width="1.8" stroke-opacity="0.75"/>
<line x1="701.3" y1="1503.8999999999999" x2="706.8" y2="1503.8999999999999" stroke="#F8766D" stroke-width="1.8" stroke-opacity="0.75"/>
<line x1="705.5" y1="1045.8" x2="705.5" y2="1151.6" stroke="#00BA38" stroke-width="2.7"/>
<line x1="701.3" y1="1046.7" x2="706.8" y2="1046.7" stroke="#00BA38" stroke-width="1.8" stroke-opacity="0.75"/>
<line x1="701.3" y1="1150.6999999999998" x2="706.8" y2="1150.6999999999998" stroke="#00BA38" stroke-width="1.8" stroke-opacity="0.75"/>
<line x1="705.5" y1="1295.2" x2="705.5" y2="1403.2" stroke="#619CFF" stroke-width="2.7"/>
<line x1="701.3" y1="1296.1000000000001" x2="706.8" y2="1296.1000000000001" stroke="#619CFF" stroke-width="1.8" stroke-opacity="0.75"/>
<line x1="701.3" y1="1402.3" x2="706.8" y2="1402.3" stroke="#619CFF" stroke-width="1.8" stroke-opacity="0.75"/>
<line x1="745.8" y1="1129" x2="745.8" y2="1222.6" stroke="#F8766D" stroke-width="2.7"/>
<line x1="741.5999999999999" y1="1129.9" x2="747.0999999999999" y2="1129.9" stroke="#F8766D" stroke-width="1.8" stroke-opacity="0.75"/>
<line x1="741.5999999999999" y1="1221.6999999999998" x2="747.0999999999999" y2="1221.6999999999998" stroke="#F8766D" stroke-width="1.8" stroke-opacity="0.75"/>
<line x1="745.8" y1="1183.6" x2="745.8" y2="1278.4" stroke="#00BA38" stroke-width="2.7"/>
<line x1="741.5999999999999" y1="1184.5" x2="747.0999999999999" y2="1184.5" stroke="#00BA38" stroke-width="1.8" stroke-opacity="0.75"/>
<line x1="741.5999999999999" y1="1277.5" x2="747.0999999999999" y2="1277.5" stroke="#00BA38" stroke-width="1.8" stroke-opacity="0.75"/>
<line x1="745.8" y1="946" x2="745.8" y2="1042" stroke="#619CFF" stroke-width="2.7"/>
<line x1="741.5999999999999" y1="946.9" x2="747.0999999999999" y2="946.9" stroke="#619CFF" stroke-width="1.8" stroke-opacity="0.75"/>
<line x1="741.5999999999999" y1="1041.1" x2="747.0999999999999" y2="1041.1" stroke="#619CFF" stroke-width="1.8" stroke-opacity="0.75"/>
<line x1="786.8" y1="1113" x2="786.8" y2="1194" stroke="#F8766D" stroke-width="2.7"/>
<line x1="782.5999999999999" y1="1193.1" x2="788.0999999999999" y2="1193.1" stroke="#F8766D" stroke-width="1.8" stroke-opacity="0.75"/>
<line x1="786.8" y1="1110.4" x2="786.8" y2="1220" stroke="#00BA38" stroke-width="2.7"/>
<line x1="782.5999999999999" y1="1219.1" x2="788.0999999999999" y2="1219.1" stroke="#00BA38" stroke-width="1.8" stroke-opacity="0.75"/>
<line x1="786.8" y1="1094.5" x2="786.8" y2="1204.3" stroke="#619CFF" stroke-width="2.7"/>
<line x1="782.5999999999999" y1="1095.4" x2="788.0999999999999" y2="1095.4" stroke="#619CFF" stroke-width="1.8" stroke-opacity="0.75"/>
<line x1="782.5999999999999" y1="1203.3999999999999" x2="788.0999999999999" y2="1203.3999999999999" stroke="#619CFF" stroke-width="1.8" stroke-opacity="0.75"/>
<line x1="827.5" y1="1343" x2="827.5" y2="1452" stroke="#F8766D" stroke-width="2.7"/>
<line x1="823.3" y1="1343.9" x2="828.8" y2="1343.9" stroke="#F8766D" stroke-width="1.8" stroke-opacity="0.75"/>
<line x1="823.3" y1="1451.1" x2="828.8" y2="1451.1" stroke="#F8766D" stroke-width="1.8" stroke-opacity="0.75"/>
<line x1="827.5" y1="1209" x2="827.5" y2="1313.9" stroke="#00BA38" stroke-width="2.7"/>
<line x1="823.3" y1="1209.9" x2="828.8" y2="1209.9" stroke="#00BA38" stroke-width="1.8" stroke-opacity="0.75"/>
<line x1="823.3" y1="1313.0" x2="828.8" y2="1313.0" stroke="#00BA38" stroke-width="1.8" stroke-opacity="0.75"/>
<line x1="827.5" y1="1363" x2="827.5" y2="1469.4" stroke="#619CFF" stroke-width="2.7"/>
<line x1="823.3" y1="1363.9" x2="828.8" y2="1363.9" stroke="#619CFF" stroke-width="1.8" stroke-opacity="0.75"/>
<line x1="823.3" y1="1468.5" x2="828.8" y2="1468.5" stroke="#619CFF" stroke-width="1.8" stroke-opacity="0.75"/>
<circle cx="705.5" cy="1462.3" r="6.1" fill="#F8766D"/>
<circle cx="745.8" cy="1175.8" r="6.1" fill="#F8766D"/>
<circle cx="786.8" cy="1152" r="6.1" fill="#F8766D"/>
<circle cx="827.5" cy="1397.4" r="6.1" fill="#F8766D"/>
<circle cx="705.5" cy="1097.4" r="6.1" fill="#00BA38"/>
<circle cx="745.8" cy="1231" r="6.1" fill="#00BA38"/>
<circle cx="786.8" cy="1165.2" r="6.1" fill="#00BA38"/>
<circle cx="827.5" cy="1261.3" r="6.1" fill="#00BA38"/>
<circle cx="705.5" cy="1350" r="6.1" fill="#619CFF"/>
<circle cx="745.8" cy="994.2" r="6.1" fill="#619CFF"/>
<circle cx="786.8" cy="1149.4" r="6.1" fill="#619CFF"/>
<circle cx="827.5" cy="1416.8" r="6.1" fill="#619CFF"/>
<rect x="682.4" y="916.9" width="168.8" height="615.6" fill="none" stroke="#363636" stroke-width="2.35"/>
<rect x="682.4" y="863.3" width="168.8" height="53.60000000000002" fill="#D9D9D9" stroke="#363636" stroke-width="2.35"/>
<text x="765.3" y="901.5" font-size="26.8" fill="#1A1A1A" text-anchor="middle" letter-spacing="0.2">ACE</text>
<line x1="705.5" y1="1532.5" x2="705.5" y2="1540.5" stroke="#333" stroke-width="2.4"/>
<text x="704.7" y="1571.5" font-size="26.8" fill="#4D4D4D" text-anchor="middle">A</text>
<line x1="745.8" y1="1532.5" x2="745.8" y2="1540.5" stroke="#333" stroke-width="2.4"/>
<text x="742.6" y="1571.5" font-size="26.8" fill="#4D4D4D" text-anchor="middle">B</text>
<line x1="786.8" y1="1532.5" x2="786.8" y2="1540.5" stroke="#333" stroke-width="2.4"/>
<text x="784.2" y="1571.5" font-size="26.8" fill="#4D4D4D" text-anchor="middle">C</text>
<line x1="827.5" y1="1532.5" x2="827.5" y2="1540.5" stroke="#333" stroke-width="2.4"/>
<text x="824.0" y="1571.5" font-size="26.8" fill="#4D4D4D" text-anchor="middle">D</text>
<line x1="673.4" y1="1055" x2="682.4" y2="1055" stroke="#333" stroke-width="2.4"/>
<text x="666.1" y="1067.8" font-size="27" fill="#4D4D4D" text-anchor="end" letter-spacing="1.9">2750</text>
<line x1="673.4" y1="1232" x2="682.4" y2="1232" stroke="#333" stroke-width="2.4"/>
<text x="666.1" y="1244.8" font-size="27" fill="#4D4D4D" text-anchor="end" letter-spacing="1.9">2700</text>
<line x1="673.4" y1="1410" x2="682.4" y2="1410" stroke="#333" stroke-width="2.4"/>
<text x="666.1" y="1422.8" font-size="27" fill="#4D4D4D" text-anchor="end" letter-spacing="1.9">2650</text>
<rect x="927.2" y="916.9" width="169.8" height="615.6" fill="#fff"/>
<line x1="927.2" y1="990.2" x2="1097.0" y2="990.2" stroke="#EFEFEF" stroke-width="2"/>
<line x1="927.2" y1="1193.8" x2="1097.0" y2="1193.8" stroke="#EFEFEF" stroke-width="2"/>
<line x1="927.2" y1="1397.5" x2="1097.0" y2="1397.5" stroke="#EFEFEF" stroke-width="2"/>
<line x1="927.2" y1="1092.0" x2="1097.0" y2="1092.0" stroke="#EBEBEB" stroke-width="2.4"/>
<line x1="927.2" y1="1295.6" x2="1097.0" y2="1295.6" stroke="#EBEBEB" stroke-width="2.4"/>
<line x1="927.2" y1="1499.3" x2="1097.0" y2="1499.3" stroke="#EBEBEB" stroke-width="2.4"/>
<line x1="950.5" y1="916.9" x2="950.5" y2="1532.5" stroke="#EBEBEB" stroke-width="2.4"/>
<line x1="990.5" y1="916.9" x2="990.5" y2="1532.5" stroke="#EBEBEB" stroke-width="2.4"/>
<line x1="1031.3" y1="916.9" x2="1031.3" y2="1532.5" stroke="#EBEBEB" stroke-width="2.4"/>
<line x1="1072.0" y1="916.9" x2="1072.0" y2="1532.5" stroke="#EBEBEB" stroke-width="2.4"/>
<circle cx="950.5" cy="1169.4" r="6.1" fill="#F8766D"/>
<circle cx="990.5" cy="1092.6" r="6.1" fill="#F8766D"/>
<circle cx="1031.3" cy="946.8" r="6.1" fill="#F8766D"/>
<circle cx="1072.0" cy="1448.4" r="6.1" fill="#F8766D"/>
<circle cx="950.5" cy="1504.2" r="6.1" fill="#00BA38"/>
<circle cx="990.5" cy="1086.5" r="6.1" fill="#00BA38"/>
<circle cx="1031.3" cy="1124.2" r="6.1" fill="#00BA38"/>
<circle cx="1072.0" cy="1338.7" r="6.1" fill="#00BA38"/>
<circle cx="950.5" cy="1462.6" r="6.1" fill="#619CFF"/>
<circle cx="990.5" cy="1169.4" r="6.1" fill="#619CFF"/>
<circle cx="1031.3" cy="1007" r="6.1" fill="#619CFF"/>
<circle cx="1072.0" cy="948.4" r="6.1" fill="#619CFF"/>
<rect x="927.2" y="916.9" width="169.8" height="615.6" fill="none" stroke="#363636" stroke-width="2.35"/>
<rect x="927.2" y="863.3" width="169.8" height="53.60000000000002" fill="#D9D9D9" stroke="#363636" stroke-width="2.35"/>
<text x="1010.6" y="901.5" font-size="26.8" fill="#1A1A1A" text-anchor="middle" letter-spacing="1.5">Shannon</text>
<line x1="950.5" y1="1532.5" x2="950.5" y2="1540.5" stroke="#333" stroke-width="2.4"/>
<text x="949.7" y="1571.5" font-size="26.8" fill="#4D4D4D" text-anchor="middle">A</text>
<line x1="990.5" y1="1532.5" x2="990.5" y2="1540.5" stroke="#333" stroke-width="2.4"/>
<text x="987.3" y="1571.5" font-size="26.8" fill="#4D4D4D" text-anchor="middle">B</text>
<line x1="1031.3" y1="1532.5" x2="1031.3" y2="1540.5" stroke="#333" stroke-width="2.4"/>
<text x="1028.7" y="1571.5" font-size="26.8" fill="#4D4D4D" text-anchor="middle">C</text>
<line x1="1072.0" y1="1532.5" x2="1072.0" y2="1540.5" stroke="#333" stroke-width="2.4"/>
<text x="1068.5" y="1571.5" font-size="26.8" fill="#4D4D4D" text-anchor="middle">D</text>
<line x1="918.2" y1="1092" x2="927.2" y2="1092" stroke="#333" stroke-width="2.4"/>
<text x="910.9000000000001" y="1104.8" font-size="27" fill="#4D4D4D" text-anchor="end" letter-spacing="1.9">4.0</text>
<line x1="918.2" y1="1295.6" x2="927.2" y2="1295.6" stroke="#333" stroke-width="2.4"/>
<text x="910.9000000000001" y="1308.4" font-size="27" fill="#4D4D4D" text-anchor="end" letter-spacing="1.9">3.6</text>
<line x1="918.2" y1="1499.3" x2="927.2" y2="1499.3" stroke="#333" stroke-width="2.4"/>
<text x="910.9000000000001" y="1512.1" font-size="27" fill="#4D4D4D" text-anchor="end" letter-spacing="1.9">3.2</text>
<rect x="1189.2" y="916.9" width="167.5" height="615.6" fill="#fff"/>
<line x1="1189.2" y1="952.5" x2="1356.7" y2="952.5" stroke="#EFEFEF" stroke-width="2"/>
<line x1="1189.2" y1="1087.5" x2="1356.7" y2="1087.5" stroke="#EFEFEF" stroke-width="2"/>
<line x1="1189.2" y1="1222.6" x2="1356.7" y2="1222.6" stroke="#EFEFEF" stroke-width="2"/>
<line x1="1189.2" y1="1357.7" x2="1356.7" y2="1357.7" stroke="#EFEFEF" stroke-width="2"/>
<line x1="1189.2" y1="1492.7" x2="1356.7" y2="1492.7" stroke="#EFEFEF" stroke-width="2"/>
<line x1="1189.2" y1="1020.0" x2="1356.7" y2="1020.0" stroke="#EBEBEB" stroke-width="2.4"/>
<line x1="1189.2" y1="1154.8" x2="1356.7" y2="1154.8" stroke="#EBEBEB" stroke-width="2.4"/>
<line x1="1189.2" y1="1290.5" x2="1356.7" y2="1290.5" stroke="#EBEBEB" stroke-width="2.4"/>
<line x1="1189.2" y1="1425.2" x2="1356.7" y2="1425.2" stroke="#EBEBEB" stroke-width="2.4"/>
<line x1="1212" y1="916.9" x2="1212" y2="1532.5" stroke="#EBEBEB" stroke-width="2.4"/>
<line x1="1253" y1="916.9" x2="1253" y2="1532.5" stroke="#EBEBEB" stroke-width="2.4"/>
<line x1="1291.5" y1="916.9" x2="1291.5" y2="1532.5" stroke="#EBEBEB" stroke-width="2.4"/>
<line x1="1332" y1="916.9" x2="1332" y2="1532.5" stroke="#EBEBEB" stroke-width="2.4"/>
<circle cx="1212" cy="1122.9" r="6.1" fill="#F8766D"/>
<circle cx="1253" cy="969.4" r="6.1" fill="#F8766D"/>
<circle cx="1291.5" cy="1019.4" r="6.1" fill="#F8766D"/>
<circle cx="1332" cy="1442" r="6.1" fill="#F8766D"/>
<circle cx="1212" cy="1504.8" r="6.1" fill="#00BA38"/>
<circle cx="1253" cy="985.5" r="6.1" fill="#00BA38"/>
<circle cx="1291.5" cy="1026" r="6.1" fill="#00BA38"/>
<circle cx="1332" cy="1269.4" r="6.1" fill="#00BA38"/>
<circle cx="1212" cy="1381.3" r="6.1" fill="#619CFF"/>
<circle cx="1253" cy="1444.5" r="6.1" fill="#619CFF"/>
<circle cx="1291.5" cy="957.4" r="6.1" fill="#619CFF"/>
<circle cx="1332" cy="946.8" r="6.1" fill="#619CFF"/>
<rect x="1189.2" y="916.9" width="167.5" height="615.6" fill="none" stroke="#363636" stroke-width="2.35"/>
<rect x="1189.2" y="863.3" width="167.5" height="53.60000000000002" fill="#D9D9D9" stroke="#363636" stroke-width="2.35"/>
<text x="1271.5" y="901.5" font-size="26.8" fill="#1A1A1A" text-anchor="middle" letter-spacing="1.5">Simpson</text>
<line x1="1212" y1="1532.5" x2="1212" y2="1540.5" stroke="#333" stroke-width="2.4"/>
<text x="1211.2" y="1571.5" font-size="26.8" fill="#4D4D4D" text-anchor="middle">A</text>
<line x1="1253" y1="1532.5" x2="1253" y2="1540.5" stroke="#333" stroke-width="2.4"/>
<text x="1249.8" y="1571.5" font-size="26.8" fill="#4D4D4D" text-anchor="middle">B</text>
<line x1="1291.5" y1="1532.5" x2="1291.5" y2="1540.5" stroke="#333" stroke-width="2.4"/>
<text x="1288.9" y="1571.5" font-size="26.8" fill="#4D4D4D" text-anchor="middle">C</text>
<line x1="1332" y1="1532.5" x2="1332" y2="1540.5" stroke="#333" stroke-width="2.4"/>
<text x="1328.5" y="1571.5" font-size="26.8" fill="#4D4D4D" text-anchor="middle">D</text>
<line x1="1180.2" y1="1020" x2="1189.2" y2="1020" stroke="#333" stroke-width="2.4"/>
<text x="1172.9" y="1032.8" font-size="27" fill="#4D4D4D" text-anchor="end" letter-spacing="1.9">0.95</text>
<line x1="1180.2" y1="1154.8" x2="1189.2" y2="1154.8" stroke="#333" stroke-width="2.4"/>
<text x="1172.9" y="1167.6" font-size="27" fill="#4D4D4D" text-anchor="end" letter-spacing="1.9">0.94</text>
<line x1="1180.2" y1="1290.5" x2="1189.2" y2="1290.5" stroke="#333" stroke-width="2.4"/>
<text x="1172.9" y="1303.3" font-size="27" fill="#4D4D4D" text-anchor="end" letter-spacing="1.9">0.93</text>
<line x1="1180.2" y1="1425.2" x2="1189.2" y2="1425.2" stroke="#333" stroke-width="2.4"/>
<text x="1172.9" y="1438.0" font-size="27" fill="#4D4D4D" text-anchor="end" letter-spacing="1.9">0.92</text>
<rect x="1423.7" y="916.9" width="170.3" height="615.6" fill="#fff"/>
<line x1="1423.7" y1="949.1" x2="1594.0" y2="949.1" stroke="#EFEFEF" stroke-width="2"/>
<line x1="1423.7" y1="1102.5" x2="1594.0" y2="1102.5" stroke="#EFEFEF" stroke-width="2"/>
<line x1="1423.7" y1="1255.9" x2="1594.0" y2="1255.9" stroke="#EFEFEF" stroke-width="2"/>
<line x1="1423.7" y1="1409.3" x2="1594.0" y2="1409.3" stroke="#EFEFEF" stroke-width="2"/>
<line x1="1423.7" y1="1025.8" x2="1594.0" y2="1025.8" stroke="#EBEBEB" stroke-width="2.4"/>
<line x1="1423.7" y1="1179.0" x2="1594.0" y2="1179.0" stroke="#EBEBEB" stroke-width="2.4"/>
<line x1="1423.7" y1="1331.0" x2="1594.0" y2="1331.0" stroke="#EBEBEB" stroke-width="2.4"/>
<line x1="1423.7" y1="1486.0" x2="1594.0" y2="1486.0" stroke="#EBEBEB" stroke-width="2.4"/>
<line x1="1447" y1="916.9" x2="1447" y2="1532.5" stroke="#EBEBEB" stroke-width="2.4"/>
<line x1="1488.4" y1="916.9" x2="1488.4" y2="1532.5" stroke="#EBEBEB" stroke-width="2.4"/>
<line x1="1528.7" y1="916.9" x2="1528.7" y2="1532.5" stroke="#EBEBEB" stroke-width="2.4"/>
<line x1="1570" y1="916.9" x2="1570" y2="1532.5" stroke="#EBEBEB" stroke-width="2.4"/>
<circle cx="1447" cy="1210.5" r="6.1" fill="#F8766D"/>
<circle cx="1488.4" cy="988" r="6.1" fill="#F8766D"/>
<circle cx="1528.7" cy="1072.6" r="6.1" fill="#F8766D"/>
<circle cx="1570" cy="1468.7" r="6.1" fill="#F8766D"/>
<circle cx="1447" cy="1504.8" r="6.1" fill="#00BA38"/>
<circle cx="1488.4" cy="1016.8" r="6.1" fill="#00BA38"/>
<circle cx="1528.7" cy="1082.3" r="6.1" fill="#00BA38"/>
<circle cx="1570" cy="1351.6" r="6.1" fill="#00BA38"/>
<circle cx="1447" cy="1433" r="6.1" fill="#619CFF"/>
<circle cx="1488.4" cy="1471.6" r="6.1" fill="#619CFF"/>
<circle cx="1528.7" cy="969.4" r="6.1" fill="#619CFF"/>
<circle cx="1570" cy="946.8" r="6.1" fill="#619CFF"/>
<rect x="1423.7" y="916.9" width="170.3" height="615.6" fill="none" stroke="#363636" stroke-width="2.35"/>
<rect x="1423.7" y="863.3" width="170.3" height="53.60000000000002" fill="#D9D9D9" stroke="#363636" stroke-width="2.35"/>
<text x="1507.4" y="901.5" font-size="26.8" fill="#1A1A1A" text-anchor="middle" letter-spacing="1.5">InvSimpson</text>
<line x1="1447" y1="1532.5" x2="1447" y2="1540.5" stroke="#333" stroke-width="2.4"/>
<text x="1446.2" y="1571.5" font-size="26.8" fill="#4D4D4D" text-anchor="middle">A</text>
<line x1="1488.4" y1="1532.5" x2="1488.4" y2="1540.5" stroke="#333" stroke-width="2.4"/>
<text x="1485.2" y="1571.5" font-size="26.8" fill="#4D4D4D" text-anchor="middle">B</text>
<line x1="1528.7" y1="1532.5" x2="1528.7" y2="1540.5" stroke="#333" stroke-width="2.4"/>
<text x="1526.1" y="1571.5" font-size="26.8" fill="#4D4D4D" text-anchor="middle">C</text>
<line x1="1570" y1="1532.5" x2="1570" y2="1540.5" stroke="#333" stroke-width="2.4"/>
<text x="1566.5" y="1571.5" font-size="26.8" fill="#4D4D4D" text-anchor="middle">D</text>
<line x1="1414.7" y1="1025.8" x2="1423.7" y2="1025.8" stroke="#333" stroke-width="2.4"/>
<text x="1407.4" y="1038.6" font-size="27" fill="#4D4D4D" text-anchor="end" letter-spacing="1.9">21</text>
<line x1="1414.7" y1="1179" x2="1423.7" y2="1179" stroke="#333" stroke-width="2.4"/>
<text x="1407.4" y="1191.8" font-size="27" fill="#4D4D4D" text-anchor="end" letter-spacing="1.9">18</text>
<line x1="1414.7" y1="1331" x2="1423.7" y2="1331" stroke="#333" stroke-width="2.4"/>
<text x="1407.4" y="1343.8" font-size="27" fill="#4D4D4D" text-anchor="end" letter-spacing="1.9">15</text>
<line x1="1414.7" y1="1486" x2="1423.7" y2="1486" stroke="#333" stroke-width="2.4"/>
<text x="1407.4" y="1498.8" font-size="27" fill="#4D4D4D" text-anchor="end" letter-spacing="1.9">12</text>
<rect x="1678.7" y="916.9" width="170.3" height="615.6" fill="#fff"/>
<line x1="1678.7" y1="1054.2" x2="1849.0" y2="1054.2" stroke="#EFEFEF" stroke-width="2"/>
<line x1="1678.7" y1="1197.3" x2="1849.0" y2="1197.3" stroke="#EFEFEF" stroke-width="2"/>
<line x1="1678.7" y1="1340.4" x2="1849.0" y2="1340.4" stroke="#EFEFEF" stroke-width="2"/>
<line x1="1678.7" y1="1483.5" x2="1849.0" y2="1483.5" stroke="#EFEFEF" stroke-width="2"/>
<line x1="1678.7" y1="982.7" x2="1849.0" y2="982.7" stroke="#EBEBEB" stroke-width="2.4"/>
<line x1="1678.7" y1="1127.0" x2="1849.0" y2="1127.0" stroke="#EBEBEB" stroke-width="2.4"/>
<line x1="1678.7" y1="1268.0" x2="1849.0" y2="1268.0" stroke="#EBEBEB" stroke-width="2.4"/>
<line x1="1678.7" y1="1412.0" x2="1849.0" y2="1412.0" stroke="#EBEBEB" stroke-width="2.4"/>
<line x1="1701.8" y1="916.9" x2="1701.8" y2="1532.5" stroke="#EBEBEB" stroke-width="2.4"/>
<line x1="1742.2" y1="916.9" x2="1742.2" y2="1532.5" stroke="#EBEBEB" stroke-width="2.4"/>
<line x1="1783.5" y1="916.9" x2="1783.5" y2="1532.5" stroke="#EBEBEB" stroke-width="2.4"/>
<line x1="1824.1" y1="916.9" x2="1824.1" y2="1532.5" stroke="#EBEBEB" stroke-width="2.4"/>
<circle cx="1701.8" cy="1222.3" r="6.1" fill="#F8766D"/>
<circle cx="1742.2" cy="1140.4" r="6.1" fill="#F8766D"/>
<circle cx="1783.5" cy="1003.6" r="6.1" fill="#F8766D"/>
<circle cx="1824.1" cy="1365.9" r="6.1" fill="#F8766D"/>
<circle cx="1701.8" cy="1318.7" r="6.1" fill="#00BA38"/>
<circle cx="1742.2" cy="1124.3" r="6.1" fill="#00BA38"/>
<circle cx="1783.5" cy="1117.4" r="6.1" fill="#00BA38"/>
<circle cx="1824.1" cy="1252.6" r="6.1" fill="#00BA38"/>
<circle cx="1701.8" cy="1505.2" r="6.1" fill="#619CFF"/>
<circle cx="1742.2" cy="947" r="6.1" fill="#619CFF"/>
<circle cx="1783.5" cy="967.4" r="6.1" fill="#619CFF"/>
<circle cx="1824.1" cy="1155.6" r="6.1" fill="#619CFF"/>
<rect x="1678.7" y="916.9" width="170.3" height="615.6" fill="none" stroke="#363636" stroke-width="2.35"/>
<rect x="1678.7" y="863.3" width="170.3" height="53.60000000000002" fill="#D9D9D9" stroke="#363636" stroke-width="2.35"/>
<text x="1762.4" y="901.5" font-size="26.8" fill="#1A1A1A" text-anchor="middle" letter-spacing="1.5">Fisher</text>
<line x1="1701.8" y1="1532.5" x2="1701.8" y2="1540.5" stroke="#333" stroke-width="2.4"/>
<text x="1701.0" y="1571.5" font-size="26.8" fill="#4D4D4D" text-anchor="middle">A</text>
<line x1="1742.2" y1="1532.5" x2="1742.2" y2="1540.5" stroke="#333" stroke-width="2.4"/>
<text x="1739.0" y="1571.5" font-size="26.8" fill="#4D4D4D" text-anchor="middle">B</text>
<line x1="1783.5" y1="1532.5" x2="1783.5" y2="1540.5" stroke="#333" stroke-width="2.4"/>
<text x="1780.9" y="1571.5" font-size="26.8" fill="#4D4D4D" text-anchor="middle">C</text>
<line x1="1824.1" y1="1532.5" x2="1824.1" y2="1540.5" stroke="#333" stroke-width="2.4"/>
<text x="1820.6" y="1571.5" font-size="26.8" fill="#4D4D4D" text-anchor="middle">D</text>
<line x1="1669.7" y1="982.7" x2="1678.7" y2="982.7" stroke="#333" stroke-width="2.4"/>
<text x="1662.4" y="995.5" font-size="27" fill="#4D4D4D" text-anchor="end" letter-spacing="1.9">220</text>
<line x1="1669.7" y1="1127" x2="1678.7" y2="1127" stroke="#333" stroke-width="2.4"/>
<text x="1662.4" y="1139.8" font-size="27" fill="#4D4D4D" text-anchor="end" letter-spacing="1.9">215</text>
<line x1="1669.7" y1="1268" x2="1678.7" y2="1268" stroke="#333" stroke-width="2.4"/>
<text x="1662.4" y="1280.8" font-size="27" fill="#4D4D4D" text-anchor="end" letter-spacing="1.9">210</text>
<line x1="1669.7" y1="1412" x2="1678.7" y2="1412" stroke="#333" stroke-width="2.4"/>
<text x="1662.4" y="1424.8" font-size="27" fill="#4D4D4D" text-anchor="end" letter-spacing="1.9">205</text>
<text x="991" y="1615" font-size="33.5" fill="#000" text-anchor="middle">Group</text>
<text transform="translate(34.5,1224) rotate(-90)" font-size="36.5" fill="#000" text-anchor="middle" textLength="365" lengthAdjust="spacingAndGlyphs">Alpha Diversity Measure</text>
<text x="1903" y="1153.7" font-size="33.5" fill="#000" textLength="90.5" lengthAdjust="spacing">Depth</text>
<line x1="1908.3" y1="1194.4" x2="1951.7" y2="1194.4" stroke="#F8766D" stroke-width="2.4"/>
<circle cx="1930" cy="1194.4" r="6" fill="#F8766D"/>
<text x="1965.5" y="1207.9" font-size="27.5" fill="#000">1</text>
<line x1="1908.3" y1="1246.4" x2="1951.7" y2="1246.4" stroke="#00BA38" stroke-width="2.4"/>
<circle cx="1930" cy="1246.4" r="6" fill="#00BA38"/>
<text x="1965.5" y="1259.9" font-size="27.5" fill="#000">2</text>
<line x1="1908.3" y1="1298.4" x2="1951.7" y2="1298.4" stroke="#619CFF" stroke-width="2.4"/>
<circle cx="1930" cy="1298.4" r="6" fill="#619CFF"/>
<text x="1965.5" y="1311.9" font-size="27.5" fill="#000">3</text>
</g>
<g id="pC" font-family="Liberation Sans, sans-serif">
<rect x="99.8" y="1701.0" width="644.2" height="706.0" fill="#fff"/>
<line x1="180.2" y1="1701.0" x2="180.2" y2="2407.0" stroke="#EFEFEF" stroke-width="2"/>
<line x1="99.8" y1="2382.2" x2="744.0" y2="2382.2" stroke="#EFEFEF" stroke-width="2"/>
<line x1="335.8" y1="1701.0" x2="335.8" y2="2407.0" stroke="#EFEFEF" stroke-width="2"/>
<line x1="99.8" y1="2202.7" x2="744.0" y2="2202.7" stroke="#EFEFEF" stroke-width="2"/>
<line x1="491.9" y1="1701.0" x2="491.9" y2="2407.0" stroke="#EFEFEF" stroke-width="2"/>
<line x1="99.8" y1="2024.0" x2="744.0" y2="2024.0" stroke="#EFEFEF" stroke-width="2"/>
<line x1="648.8" y1="1701.0" x2="648.8" y2="2407.0" stroke="#EFEFEF" stroke-width="2"/>
<line x1="99.8" y1="1843.2" x2="744.0" y2="1843.2" stroke="#EFEFEF" stroke-width="2"/>
<line x1="256.9" y1="1701.0" x2="256.9" y2="2407.0" stroke="#EBEBEB" stroke-width="2.4"/>
<line x1="415.2" y1="1701.0" x2="415.2" y2="2407.0" stroke="#EBEBEB" stroke-width="2.4"/>
<line x1="570.1" y1="1701.0" x2="570.1" y2="2407.0" stroke="#EBEBEB" stroke-width="2.4"/>
<line x1="728.2" y1="1701.0" x2="728.2" y2="2407.0" stroke="#EBEBEB" stroke-width="2.4"/>
<line x1="99.8" y1="2292.2" x2="744.0" y2="2292.2" stroke="#EBEBEB" stroke-width="2.4"/>
<line x1="99.8" y1="2112.9" x2="744.0" y2="2112.9" stroke="#EBEBEB" stroke-width="2.4"/>
<line x1="99.8" y1="1932.6" x2="744.0" y2="1932.6" stroke="#EBEBEB" stroke-width="2.4"/>
<line x1="99.8" y1="1754.2" x2="744.0" y2="1754.2" stroke="#EBEBEB" stroke-width="2.4"/>
<ellipse cx="0" cy="0" rx="146" ry="94" transform="translate(449,2202) rotate(14)" fill="none" stroke="#F8766D" stroke-width="2.4" stroke-dasharray="13 16.5"/>
<ellipse cx="0" cy="0" rx="111.6" ry="56" transform="translate(322.5,2126.5) rotate(-4.8)" fill="none" stroke="#7CAE00" stroke-width="2.4" stroke-dasharray="13 16.5"/>
<ellipse cx="0" cy="0" rx="300" ry="36" transform="translate(381.6,2065) rotate(-32)" fill="none" stroke="#00BFC4" stroke-width="2.4" stroke-dasharray="13 16.5"/>
<ellipse cx="0" cy="0" rx="369" ry="111" transform="translate(504,2054) rotate(59.6)" fill="none" stroke="#C77CFF" stroke-width="2.4" stroke-dasharray="13 16.5"/>
<circle cx="476" cy="2168" r="3.4" fill="none" stroke="#F8766D" stroke-width="1.8"/>
<circle cx="381" cy="2198.8" r="3.4" fill="none" stroke="#F8766D" stroke-width="1.8"/>
<circle cx="488.6" cy="2246" r="3.4" fill="none" stroke="#F8766D" stroke-width="1.8"/>
<path d="M324,2102.5 L336,2102.5 L330,2091 Z" fill="none" stroke="#7CAE00" stroke-width="2"/>
<path d="M359.3,2141.5 L371.3,2141.5 L365.3,2130 Z" fill="none" stroke="#7CAE00" stroke-width="2"/>
<path d="M268.7,2145.0 L280.7,2145.0 L274.7,2133.5 Z" fill="none" stroke="#7CAE00" stroke-width="2"/>
<path d="M474.6,2014.1 H487.6 M481.1,2007.6 V2020.6" fill="none" stroke="#00BFC4" stroke-width="2.2"/>
<path d="M385.0,2039.4 H398.0 M391.5,2032.9 V2045.9" fill="none" stroke="#00BFC4" stroke-width="2.2"/>
<path d="M268.2,2140.5 H281.2 M274.7,2134.0 V2147.0" fill="none" stroke="#00BFC4" stroke-width="2.2"/>
<rect x="624.5" y="1901" width="13.3" height="4.6" fill="#00BFC4"/><rect x="634.6" y="1901" width="3.2" height="12.2" fill="#00BFC4"/>
<path d="M407.5,1903.0 L416.5,1912.0 M407.5,1912.0 L416.5,1903.0" fill="none" stroke="#C77CFF" stroke-width="1.8"/>
<path d="M360.5,2028.5 L369.5,2037.5 M360.5,2037.5 L369.5,2028.5" fill="none" stroke="#C77CFF" stroke-width="1.8"/>
<path d="M578.7,2093.4 L587.7,2102.4 M578.7,2102.4 L587.7,2093.4" fill="none" stroke="#C77CFF" stroke-width="1.8"/>
<path d="M509.70000000000005,2156.7 L518.7,2165.7 M509.70000000000005,2165.7 L518.7,2156.7" fill="none" stroke="#C77CFF" stroke-width="1.8"/>
<text x="449.5" y="2215.6" font-size="26" fill="#000" text-anchor="middle">A</text>
<text x="320" y="2137.3" font-size="26" fill="#000" text-anchor="middle">B</text>
<text x="381.8" y="2075.1" font-size="26" fill="#000" text-anchor="middle">C</text>
<text x="501.4" y="2067.0" font-size="26" fill="#000" text-anchor="middle">D</text>
<rect x="99.8" y="1701.0" width="644.2" height="706.0" fill="none" stroke="#363636" stroke-width="2.35"/>
<line x1="102.0" y1="2407.0" x2="102.0" y2="2415.0" stroke="#333" stroke-width="2.4"/>
<text x="98.8" y="2440" font-size="21.3" fill="#4D4D4D" text-anchor="middle" letter-spacing="1">-0.2</text>
<line x1="256.9" y1="2407.0" x2="256.9" y2="2415.0" stroke="#333" stroke-width="2.4"/>
<text x="253.7" y="2440" font-size="21.3" fill="#4D4D4D" text-anchor="middle" letter-spacing="1">-0.1</text>
<line x1="89.8" y1="2292.2" x2="99.8" y2="2292.2" stroke="#333" stroke-width="2.4"/>
<text x="84" y="2299.4" font-size="21.3" fill="#4D4D4D" text-anchor="end" letter-spacing="1">-0.1</text>
<line x1="415.2" y1="2407.0" x2="415.2" y2="2415.0" stroke="#333" stroke-width="2.4"/>
<text x="414.7" y="2440" font-size="21.3" fill="#4D4D4D" text-anchor="middle" letter-spacing="1">0.0</text>
<line x1="89.8" y1="2112.9" x2="99.8" y2="2112.9" stroke="#333" stroke-width="2.4"/>
<text x="84" y="2120.1" font-size="21.3" fill="#4D4D4D" text-anchor="end" letter-spacing="1">0.0</text>
<line x1="570.1" y1="2407.0" x2="570.1" y2="2415.0" stroke="#333" stroke-width="2.4"/>
<text x="569.6" y="2440" font-size="21.3" fill="#4D4D4D" text-anchor="middle" letter-spacing="1">0.1</text>
<line x1="89.8" y1="1932.6" x2="99.8" y2="1932.6" stroke="#333" stroke-width="2.4"/>
<text x="84" y="1939.8" font-size="21.3" fill="#4D4D4D" text-anchor="end" letter-spacing="1">0.1</text>
<line x1="728.2" y1="2407.0" x2="728.2" y2="2415.0" stroke="#333" stroke-width="2.4"/>
<text x="727.7" y="2440" font-size="21.3" fill="#4D4D4D" text-anchor="middle" letter-spacing="1">0.2</text>
<line x1="89.8" y1="1754.2" x2="99.8" y2="1754.2" stroke="#333" stroke-width="2.4"/>
<text x="84" y="1761.4" font-size="21.3" fill="#4D4D4D" text-anchor="end" letter-spacing="1">0.2</text>
<text x="419.5" y="2475.4" font-size="25.6" fill="#000" text-anchor="middle" textLength="92" lengthAdjust="spacing">NMDS1</text>
<text transform="translate(34.5,2055.6) rotate(-90)" font-size="27.3" fill="#000" text-anchor="middle" textLength="96" lengthAdjust="spacingAndGlyphs">NMDS2</text>
<text x="785.6" y="2106.8" font-size="25.6" fill="#000" textLength="73.5" lengthAdjust="spacing">Group</text>
<rect x="790.7" y="2135.0" width="20.6" height="5" fill="#F8766D"/>
<rect x="803.5" y="2132.5" width="7.8" height="10" fill="#F8766D"/>
<rect x="821.3" y="2135.0" width="2.8" height="5" fill="#F8766D"/>
<text x="832.6" y="2147.7" font-size="23" fill="#000">A</text>
<rect x="790.7" y="2176.6" width="20.6" height="5" fill="#7CAE00"/>
<rect x="803.5" y="2174.1" width="7.8" height="10" fill="#7CAE00"/>
<rect x="821.3" y="2176.6" width="2.8" height="5" fill="#7CAE00"/>
<text x="832.6" y="2189.3" font-size="23" fill="#000">B</text>
<rect x="790.7" y="2218.2" width="20.6" height="5" fill="#00BFC4"/>
<rect x="803.5" y="2215.7" width="7.8" height="10" fill="#00BFC4"/>
<rect x="821.3" y="2218.2" width="2.8" height="5" fill="#00BFC4"/>
<text x="832.6" y="2230.9" font-size="23" fill="#000">C</text>
<rect x="790.7" y="2259.8" width="20.6" height="5" fill="#C77CFF"/>
<rect x="803.5" y="2257.3" width="7.8" height="10" fill="#C77CFF"/>
<rect x="821.3" y="2259.8" width="2.8" height="5" fill="#C77CFF"/>
<text x="832.6" y="2272.5" font-size="23" fill="#000">D</text>
</g>
<g font-family="Liberation Sans, sans-serif" font-weight="bold" font-size="44.8" fill="#000">
<text x="16.6" y="51.8">A</text><text x="15" y="852.9">B</text><text x="14.8" y="1696.8">C</text>
</g>
</svg>
</body></html>
